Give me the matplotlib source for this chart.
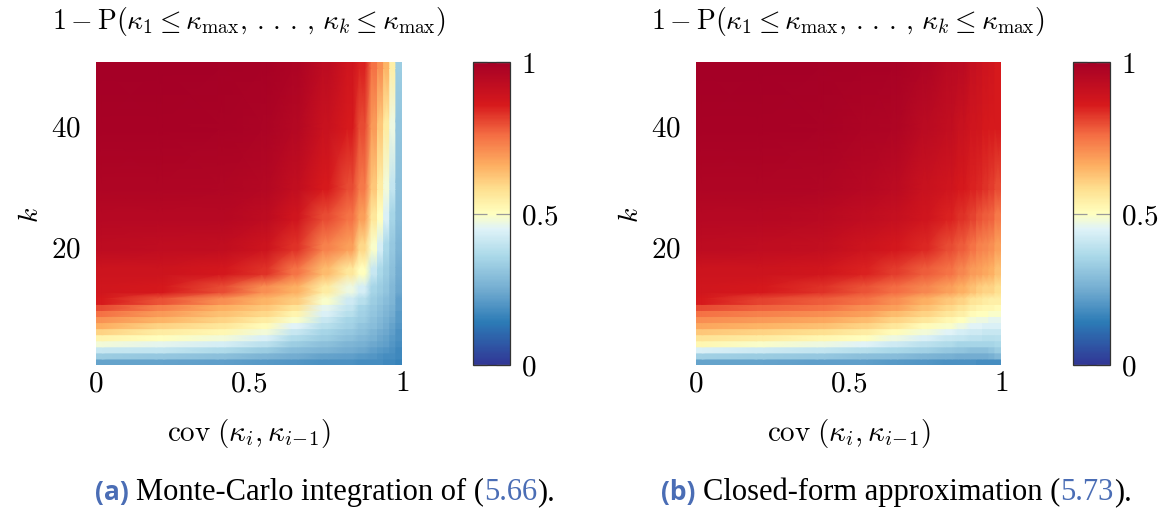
import numpy as np
import matplotlib
matplotlib.use("Agg")
import matplotlib.pyplot as plt
from matplotlib.colors import LinearSegmentedColormap

plt.rcParams['mathtext.fontset'] = 'cm'
plt.rcParams['font.family'] = ['DejaVu Sans']

# ---------------------------------------------------------------- data
# number of steps k (rows) and covariance of consecutive samples (columns)
k_rows = [1, 2, 3, 4, 5, 6, 7, 8, 9, 10, 11, 13, 16, 20, 25, 30, 40, 50]
cov_cols = [0.01, 0.21, 0.41, 0.55, 0.65, 0.75, 0.83, 0.87, 0.91, 0.93, 0.95, 0.97, 0.99]

# 1 - P(...) from Monte-Carlo integration; one list per covariance, k ascending
mc_cov001 = [0.23, 0.33, 0.41, 0.48, 0.53, 0.60, 0.66, 0.70, 0.75, 0.80, 0.86, 0.875, 0.89, 0.93, 0.95, 0.97, 0.99, 1.0]
mc_cov021 = [0.23, 0.32, 0.40, 0.46, 0.50, 0.55, 0.60, 0.65, 0.69, 0.73, 0.79, 0.865, 0.89, 0.925, 0.95, 0.97, 0.99, 1.0]
mc_cov041 = [0.22, 0.30, 0.37, 0.43, 0.48, 0.52, 0.56, 0.60, 0.63, 0.66, 0.71, 0.80, 0.87, 0.92, 0.95, 0.967, 0.985, 0.995]
mc_cov055 = [0.21, 0.27, 0.33, 0.39, 0.44, 0.48, 0.51, 0.55, 0.59, 0.62, 0.65, 0.71, 0.83, 0.89, 0.93, 0.955, 0.98, 0.99]
mc_cov065 = [0.20, 0.25, 0.29, 0.33, 0.37, 0.41, 0.45, 0.49, 0.53, 0.57, 0.61, 0.66, 0.75, 0.83, 0.88, 0.92, 0.955, 0.975]
mc_cov075 = [0.19, 0.23, 0.27, 0.30, 0.33, 0.35, 0.38, 0.41, 0.44, 0.46, 0.49, 0.55, 0.64, 0.73, 0.80, 0.86, 0.90, 0.93]
mc_cov083 = [0.19, 0.22, 0.25, 0.27, 0.30, 0.32, 0.34, 0.35, 0.38, 0.40, 0.42, 0.47, 0.56, 0.68, 0.75, 0.80, 0.86, 0.88]
mc_cov087 = [0.18, 0.21, 0.24, 0.26, 0.28, 0.30, 0.31, 0.33, 0.34, 0.35, 0.38, 0.43, 0.50, 0.59, 0.68, 0.74, 0.80, 0.85]
mc_cov091 = [0.18, 0.20, 0.22, 0.24, 0.26, 0.27, 0.29, 0.30, 0.31, 0.32, 0.33, 0.35, 0.41, 0.49, 0.56, 0.62, 0.69, 0.75]
mc_cov093 = [0.18, 0.19, 0.21, 0.23, 0.24, 0.25, 0.27, 0.28, 0.29, 0.30, 0.31, 0.33, 0.36, 0.43, 0.50, 0.55, 0.62, 0.71]
mc_cov095 = [0.17, 0.18, 0.20, 0.22, 0.23, 0.24, 0.25, 0.26, 0.27, 0.28, 0.29, 0.31, 0.33, 0.36, 0.44, 0.48, 0.55, 0.65]
mc_cov097 = [0.17, 0.18, 0.19, 0.20, 0.21, 0.22, 0.23, 0.24, 0.25, 0.26, 0.27, 0.28, 0.30, 0.32, 0.35, 0.40, 0.47, 0.54]
mc_cov099 = [0.16, 0.17, 0.17, 0.18, 0.19, 0.19, 0.20, 0.21, 0.21, 0.22, 0.22, 0.24, 0.25, 0.27, 0.29, 0.30, 0.31, 0.33]

# 1 - P(...) from the closed-form approximation
cf_cov001 = [0.23, 0.34, 0.44, 0.52, 0.57, 0.62, 0.67, 0.71, 0.75, 0.80, 0.86, 0.875, 0.89, 0.93, 0.95, 0.97, 0.99, 1.0]
cf_cov021 = [0.23, 0.33, 0.42, 0.49, 0.55, 0.60, 0.65, 0.69, 0.73, 0.77, 0.81, 0.865, 0.89, 0.925, 0.95, 0.97, 0.99, 1.0]
cf_cov041 = [0.22, 0.32, 0.40, 0.47, 0.52, 0.58, 0.63, 0.67, 0.71, 0.75, 0.78, 0.83, 0.875, 0.915, 0.945, 0.965, 0.985, 0.995]
cf_cov055 = [0.22, 0.30, 0.38, 0.45, 0.50, 0.55, 0.60, 0.64, 0.68, 0.71, 0.75, 0.79, 0.85, 0.89, 0.925, 0.95, 0.975, 0.99]
cf_cov065 = [0.21, 0.29, 0.36, 0.42, 0.47, 0.51, 0.56, 0.60, 0.64, 0.68, 0.71, 0.76, 0.82, 0.87, 0.91, 0.935, 0.97, 0.985]
cf_cov075 = [0.20, 0.27, 0.34, 0.39, 0.44, 0.48, 0.51, 0.56, 0.60, 0.63, 0.66, 0.72, 0.78, 0.84, 0.88, 0.90, 0.94, 0.97]
cf_cov083 = [0.19, 0.26, 0.32, 0.37, 0.41, 0.45, 0.49, 0.52, 0.56, 0.59, 0.62, 0.68, 0.75, 0.80, 0.85, 0.88, 0.92, 0.945]
cf_cov087 = [0.19, 0.25, 0.31, 0.35, 0.40, 0.43, 0.47, 0.50, 0.54, 0.57, 0.60, 0.66, 0.72, 0.78, 0.83, 0.865, 0.90, 0.935]
cf_cov091 = [0.19, 0.25, 0.30, 0.35, 0.39, 0.42, 0.45, 0.48, 0.51, 0.54, 0.57, 0.63, 0.69, 0.75, 0.81, 0.85, 0.88, 0.91]
cf_cov093 = [0.18, 0.25, 0.30, 0.35, 0.39, 0.42, 0.45, 0.47, 0.50, 0.53, 0.56, 0.61, 0.68, 0.73, 0.79, 0.84, 0.875, 0.895]
cf_cov095 = [0.18, 0.25, 0.30, 0.35, 0.38, 0.41, 0.44, 0.47, 0.50, 0.52, 0.55, 0.60, 0.67, 0.72, 0.78, 0.83, 0.865, 0.885]
cf_cov097 = [0.18, 0.26, 0.31, 0.35, 0.38, 0.41, 0.44, 0.46, 0.49, 0.52, 0.54, 0.60, 0.66, 0.71, 0.77, 0.82, 0.86, 0.875]
cf_cov099 = [0.18, 0.28, 0.33, 0.36, 0.385, 0.41, 0.44, 0.46, 0.49, 0.51, 0.54, 0.58, 0.63, 0.68, 0.74, 0.80, 0.86, 0.86]

mc_cols = [mc_cov001, mc_cov021, mc_cov041, mc_cov055, mc_cov065, mc_cov075, mc_cov083,
           mc_cov087, mc_cov091, mc_cov093, mc_cov095, mc_cov097, mc_cov099]
cf_cols = [cf_cov001, cf_cov021, cf_cov041, cf_cov055, cf_cov065, cf_cov075, cf_cov083,
           cf_cov087, cf_cov091, cf_cov093, cf_cov095, cf_cov097, cf_cov099]

x_ticks = [0, 0.5, 1]
x_ticklabels = ['$0$', '$0.5$', '$1$']
y_ticks = [20, 40]
y_ticklabels = ['$20$', '$40$']
cbar_ticks = [0, 0.5, 1]
cbar_ticklabels = ['$0$', '$0.5$', '$1$']

title_text = (r'$1-\mathrm{P}(\kappa_1 \leq \kappa_{\mathrm{max}},\,.\,.\,.\,,\,'
              r'\kappa_k \leq \kappa_{\mathrm{max}})$')
xlabel_text = r'$\mathrm{cov}\;(\kappa_i,\kappa_{i\!-\!1})$'
ylabel_text = r'$k$'

# ---------------------------------------------------------------- style
cmap = LinearSegmentedColormap.from_list('rdylbu_custom', [
    (0.00, '#313695'), (0.14, '#2c7bb6'), (0.25, '#74add1'), (0.36, '#abd9e9'),
    (0.45, '#e0f3f8'), (0.50, '#ffffbf'), (0.58, '#fee090'), (0.66, '#fdae61'),
    (0.76, '#f46d43'), (0.86, '#d7191c'), (1.00, '#a50026')])

W, H = 1175, 516
fig = plt.figure(figsize=(W / 100, H / 100), dpi=100)


def px_axes(x0, y0, x1, y1):
    return fig.add_axes([x0 / W, 1 - y1 / H, (x1 - x0) / W, (y1 - y0) / H])


def draw_map(ax, cols):
    z = np.array(cols, dtype=float).T
    xe = np.repeat(cov_cols, 2) + np.tile([-0.01, 0.01], len(cov_cols))
    ye = np.repeat(k_rows, 2) + np.tile([-0.5, 0.5], len(k_rows))
    zz = np.repeat(np.repeat(z, 2, axis=0), 2, axis=1)
    X, Y = np.meshgrid(xe, ye)
    m = ax.pcolormesh(X, Y, zz, shading='gouraud', cmap=cmap, vmin=0, vmax=1)
    ax.set_xlim(0, 1)
    ax.set_ylim(0.5, 50.5)
    for s in ax.spines.values():
        s.set_visible(False)
    ax.set_xticks(x_ticks)
    ax.set_xticklabels(x_ticklabels)
    ax.set_yticks(y_ticks)
    ax.set_yticklabels(y_ticklabels)
    ax.tick_params(axis='x', length=0, pad=3, labelsize=21)
    ax.tick_params(axis='y', length=0, pad=11, labelsize=21)
    return m


def draw_cbar(cax, m):
    cb = fig.colorbar(m, cax=cax, ticks=cbar_ticks)
    cb.set_ticklabels(cbar_ticklabels)
    cb.minorticks_off()
    cb.outline.set_edgecolor('#333333')
    cb.outline.set_linewidth(0.9)
    cax.tick_params(which='both', direction='in', length=10, width=0.9, color='#9a9a9a',
                    left=True, right=True, labelleft=False, labelright=True,
                    pad=8, labelsize=21)


panels = [
    dict(cols=mc_cols, ax=(96, 62, 402, 365), cax=(473, 62, 510, 365), cap_x=325,
         tag='(a)', words='Monte-Carlo integration of (', ref='5.66'),
    dict(cols=cf_cols, ax=(696, 62, 1001, 365), cax=(1073, 62, 1110, 365), cap_x=896,
         tag='(b)', words='Closed-form approximation (', ref='5.73'),
]

blue = '#4a6db5'
renderer = fig.canvas.get_renderer()

for p in panels:
    ax = px_axes(*p['ax'])
    m = draw_map(ax, p['cols'])
    draw_cbar(px_axes(*p['cax']), m)
    xc = (p['ax'][0] + p['ax'][2]) / 2 / W
    fig.text(xc, 1 - 21 / H, title_text, ha='center', va='center', fontsize=20)
    fig.text(xc, 1 - 434 / H, xlabel_text, ha='center', va='center', fontsize=21)
    fig.text((p['ax'][0] - 66) / W, 1 - 215 / H, ylabel_text, ha='center', va='center',
             fontsize=20, rotation=90)

    # caption built from pieces of different styles, centred on the sub-figure
    yb = 1 - 500 / H
    pieces = [
        (p['tag'], dict(family='Open Sans', weight='bold', color=blue, fontsize=19), 8),
        (p['words'], dict(family='Liberation Serif', color='black', fontsize=22), 0),
        (p['ref'], dict(family='Liberation Serif', color=blue, fontsize=22), 0),
        (').', dict(family='Liberation Serif', color='black', fontsize=22), 0),
    ]
    texts, widths = [], []
    for s, kw, gap in pieces:
        t = fig.text(0, yb, s, ha='left', va='baseline', **kw)
        texts.append(t)
        widths.append(t.get_window_extent(renderer).width + gap)
    x = p['cap_x'] - sum(widths) / 2
    for t, w in zip(texts, widths):
        t.set_x(x / W)
        x += w

fig.savefig('out.png', dpi=100)
